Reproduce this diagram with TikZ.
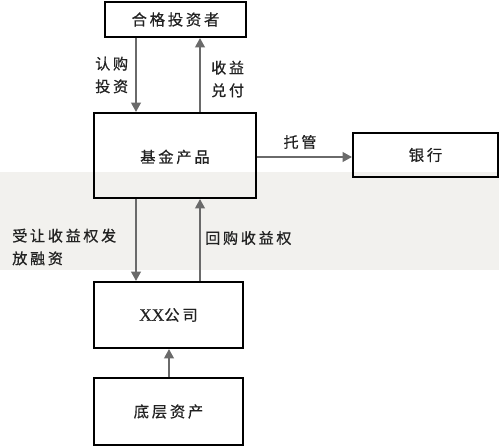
\documentclass[tikz,border=0pt]{standalone}
\usepackage{fontspec}
\newfontfamily\cjk[LetterSpace=18,FakeBold=0.6]{Noto Sans CJK SC}
\newfontfamily\lat[FakeBold=0.4]{Liberation Serif}
\usetikzlibrary{arrows.meta,fit}
\definecolor{band}{HTML}{F2F1EE}
\definecolor{arr}{HTML}{6A6A6A}
\definecolor{txt}{HTML}{222222}
\tikzset{
  box/.style={draw=black, line width=1.4pt, rectangle, inner sep=0pt},
  boxtext/.style={text=txt, font=\cjk\fontsize{11.5}{14}\selectfont},
  lbl/.style={text=txt, font=\cjk\fontsize{11.3}{17}\selectfont, align=left, inner sep=0pt},
  flow/.style={draw=arr, line width=1.9pt, -{Triangle[length=7pt,width=7pt]}}
}
\begin{document}
\begin{tikzpicture}[x=0.75pt,y=-0.75pt]
\useasboundingbox (0,0) rectangle (499,446);
\fill[white] (0,0) rectangle (499,446);
\fill[band] (0,172) rectangle (499,270);
% boxes
\node[box, fit={(105,2) (246,37)}] (inv) {};
\node[boxtext] at (inv.center) {合格投资者};
\node[box, fit={(94,113) (256,198)}] (fund) {};
\node[boxtext] at ([yshift=-1pt]fund.center) {基金产品};
\node[box, fit={(353,133) (498,177)}] (bank) {};
\node[boxtext] at (bank.center) {银行};
\node[box, fit={(94,282) (243,348)}] (xx) {};
\node[boxtext] at (xx.center) {{\lat\fontsize{13}{14}\selectfont XX}公司};
\node[box, fit={(94,378) (243,445)}] (base) {};
\node[boxtext] at (base.center) {底层资产};
% x positions
\coordinate (xa) at (136,0);
\coordinate (xb) at (200,0);
\coordinate (xc) at (169,0);
\coordinate (yb) at (0,157);
% arrows
\draw[flow] (inv.south -| xa) -- (fund.north -| xa);
\draw[flow] (fund.north -| xb) -- (inv.south -| xb);
\draw[flow] (fund.east |- yb) -- (bank.west |- yb);
\draw[flow] (fund.south -| xa) -- (xx.north -| xa);
\draw[flow] (xx.north -| xb) -- (fund.south -| xb);
\draw[flow] (base.north -| xc) -- (xx.south -| xc);
% labels
\node[lbl, anchor=west] (l1) at (95,75) {认购\\投资};
\node[lbl, anchor=west] (l2) at (211,79) {收益\\兑付};
\node[lbl, anchor=center] (l3) at (300,142) {托管};
\node[lbl, anchor=west] (l4) at (12,247) {受让收益权发\\放融资};
\node[lbl, anchor=west] (l5) at (205,238) {回购收益权};
\end{tikzpicture}
\end{document}
